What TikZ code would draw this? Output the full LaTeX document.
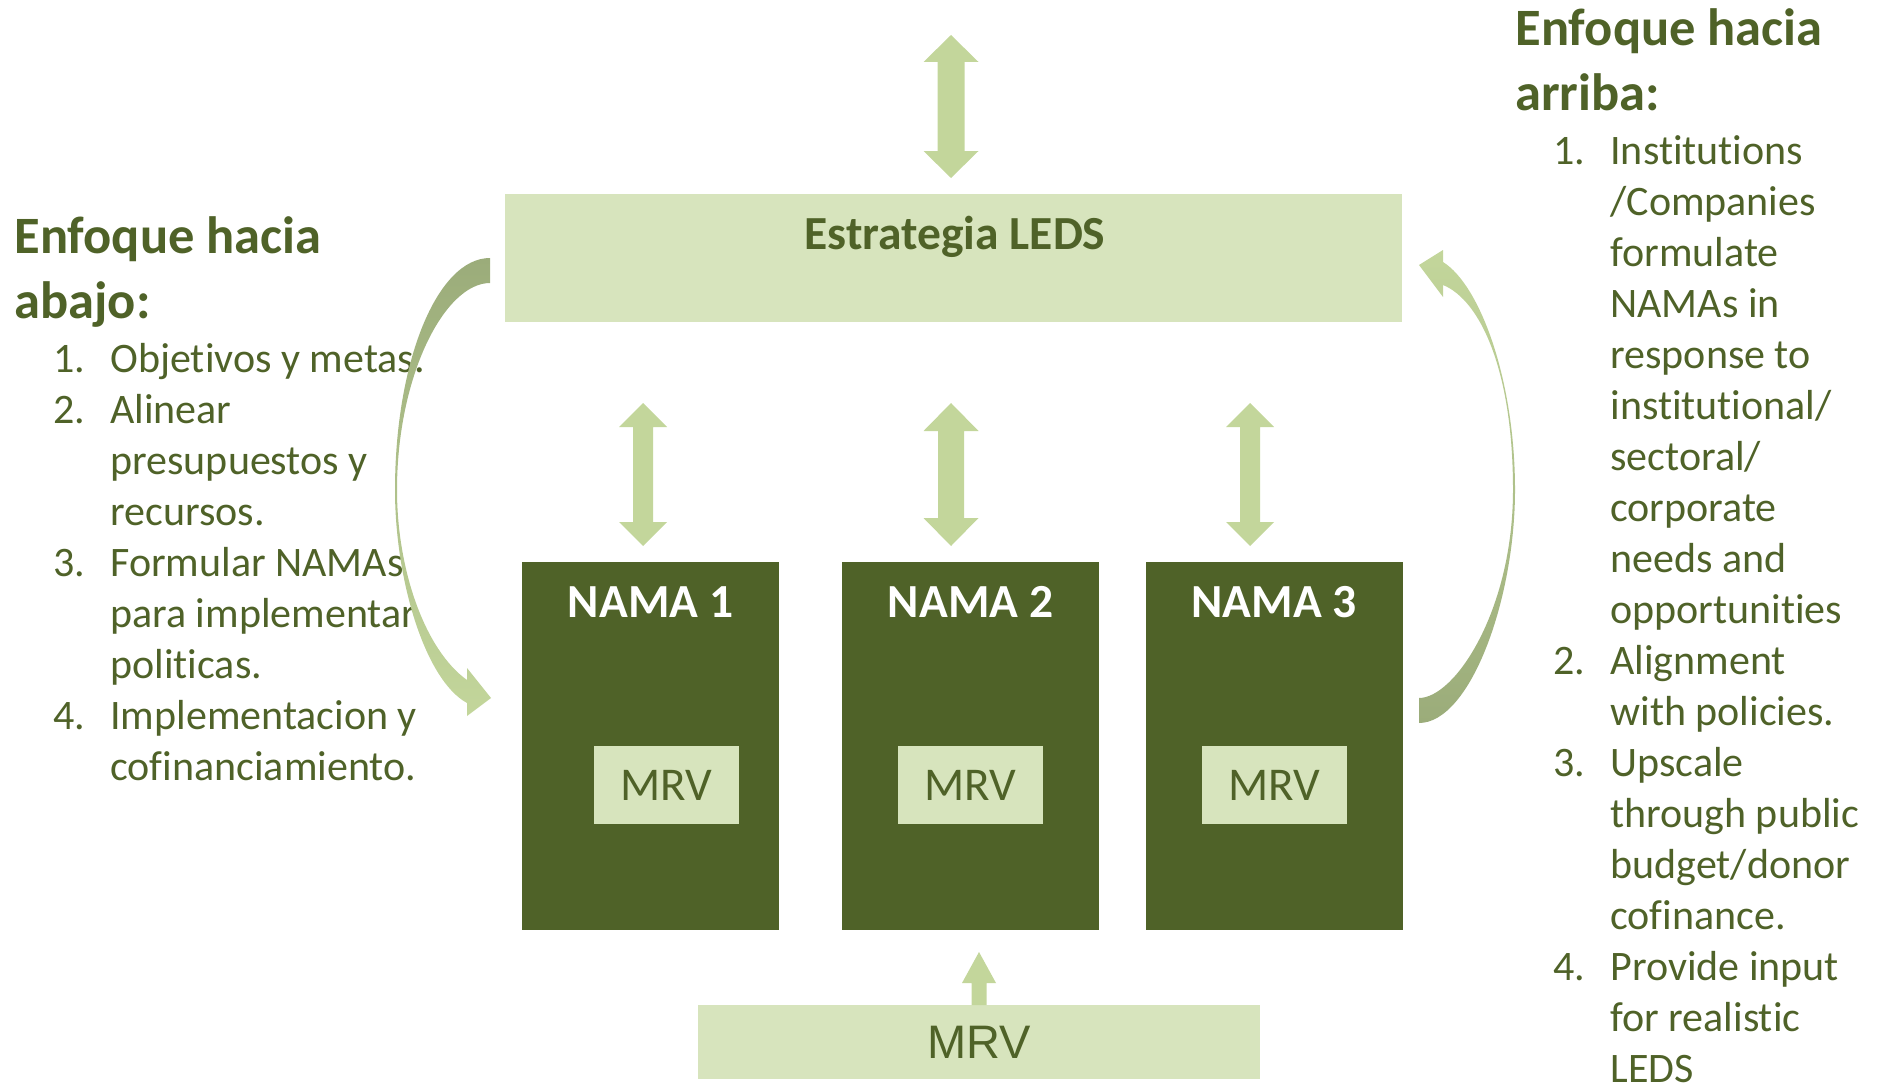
\documentclass[tikz,border=0pt]{standalone}
\usepackage{fontspec}
\setmainfont[Ligatures={NoCommon,NoRare}]{Carlito}
\newfontfamily\arialfont{Liberation Sans}
\usetikzlibrary{positioning}
\definecolor{olivedark}{RGB}{79,98,40}
\definecolor{olivepale}{RGB}{215,228,189}
\definecolor{olivelight}{RGB}{195,214,155}
\definecolor{olivemid}{RGB}{155,172,122}

\begin{document}
\begin{tikzpicture}[x=0.5pt, y=-0.5pt,
    namabox/.style={rectangle, fill=olivedark, minimum width=128.5pt, minimum height=184pt, inner sep=0pt},
    mrvbox/.style={rectangle, fill=olivepale, minimum width=72.5pt, minimum height=39pt, inner sep=0pt, text=olivedark, font=\fontsize{23.5}{28}\selectfont},
    titletext/.style={anchor=base, inner sep=0pt, font=\fontsize{23.75}{28}\selectfont\bfseries},
    headtext/.style={anchor=base west, inner sep=0pt, text=olivedark, font=\fontsize{26.25}{32.25}\selectfont\bfseries},
    listtext/.style={anchor=base west, inner sep=0pt, text=olivedark, font=\fontsize{21}{25.5}\selectfont}
]
    \useasboundingbox (0,0) rectangle (1878,1086);

    % Boxes
    \node[rectangle, fill=olivepale, minimum width=448.5pt, minimum height=64pt, inner sep=0pt] (leds) at (953.5,258) {};
    \node[titletext, text=olivedark] (ledstext) at (955,249) {Estrategia LEDS};
    \foreach \i/\cx/\mx in {1/650.5/666.5, 2/970.5/970.5, 3/1274/1274} {
        \node[namabox] (nama\i) at (\cx,746) {};
        \node[titletext, text=white] (namatext\i) at (\cx,617) {NAMA \i};
        \node[mrvbox] (mrv\i) at (\mx,785) {MRV};
    }
    \node[rectangle, fill=olivepale, minimum width=281pt, minimum height=37pt, inner sep=0pt, text=olivedark, font=\arialfont\fontsize{23.5}{28}\selectfont] (mrvbase) at (979,1042) {MRV};

    % Block arrows
    \foreach \c/\yt/\yb/\h/\s/\l in {951/35/178/27.5/13.5/27, 643/403/546/24/10/24, 951/403/546/27.5/13/28, 1250/403/546/24/10/24} {
        \fill[olivelight] (\c,\yt) -- (\c+\h,\yt+\l) -- (\c+\s,\yt+\l) -- (\c+\s,\yb-\l) -- (\c+\h,\yb-\l) -- (\c,\yb) -- (\c-\h,\yb-\l) -- (\c-\s,\yb-\l) -- (\c-\s,\yt+\l) -- (\c-\h,\yt+\l) -- cycle;
    }
    \fill[olivelight] (971.5,1005) -- (971.5,983) -- (962,983) -- (979,952) -- (996,983) -- (986.5,983) -- (986.5,1005) -- cycle;

    % Left text
    \node[headtext] (abajohead) at (14,253.5) {\begin{tabular}[t]{@{}l@{}}Enfoque hacia\\abajo:\end{tabular}};
    \node[listtext] (abajolist) at (53,372.5) {\begin{tabular}[t]{@{}p{28.5pt}@{}l@{}}
        1. & Objetivos y metas.\\
        2. & Alinear\\
           & presupuestos y\\
           & recursos.\\
        3. & Formular NAMAs\\
           & para implementar\\
           & politicas.\\
        4. & Implementacion y\\
           & cofinanciamiento.
    \end{tabular}};

    % Right text
    \node[headtext] (arribahead) at (1515,46) {\begin{tabular}[t]{@{}l@{}}Enfoque hacia\\arriba:\end{tabular}};
    \node[listtext] (arribalist) at (1553,164) {\begin{tabular}[t]{@{}p{28.5pt}@{}l@{}}
        1. & Institutions\\
           & /Companies\\
           & formulate\\
           & NAMAs in\\
           & response to\\
           & institutional/\\
           & sectoral/\\
           & corporate\\
           & needs and\\
           & opportunities\\
        2. & Alignment\\
           & with policies.\\
        3. & Upscale\\
           & through public\\
           & budget/donor\\
           & cofinance.\\
        4. & Provide input\\
           & for realistic\\
           & LEDS
    \end{tabular}};

    % Curved arrows
    \shade[top color=olivemid, bottom color=olivelight] (490,258) .. controls (437,258) and (395,362) .. (395,490)
        .. controls (395,580) and (425,680) .. (467,703) -- (467,716) -- (491,698) -- (467,668) -- (467,680)
        .. controls (425,650) and (397,570) .. (397,490) .. controls (397,375) and (445,283) .. (490,283) -- cycle;
    \shade[top color=olivelight, bottom color=olivemid] (1443,262) .. controls (1480,285) and (1515,380) .. (1515,490)
        .. controls (1515,600) and (1470,723) .. (1419,723) -- (1419,698)
        .. controls (1455,698) and (1513,610) .. (1513,490) .. controls (1513,370) and (1480,300) .. (1443,285)
        -- (1443,297) -- (1419,265) -- (1443,250) -- cycle;
\end{tikzpicture}
\end{document}
